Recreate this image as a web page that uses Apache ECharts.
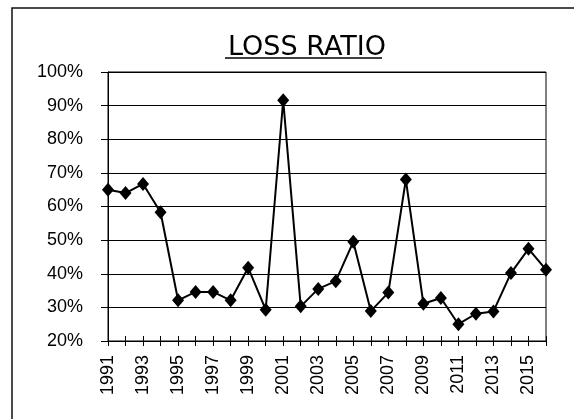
<!DOCTYPE html>
<html>
<head>
<meta charset="utf-8">
<script src="https://cdn.jsdelivr.net/npm/echarts@6/dist/echarts.min.js"></script>
<style>
  html, body { margin: 0; padding: 0; background: #fff; }
  #main { width: 574px; height: 419px; }
</style>
</head>
<body>
<div id="main"></div>
<script>
let years = ['1991', '1992', '1993', '1994', '1995', '1996', '1997', '1998', '1999', '2000',
    '2001', '2002', '2003', '2004', '2005', '2006', '2007', '2008', '2009', '2010',
    '2011', '2012', '2013', '2014', '2015', '2016']
let lossRatio = [65.0, 64.0, 66.7, 58.3, 32.1, 34.6, 34.6, 32.1, 41.8, 29.3,
    91.6, 30.3, 35.5, 37.8, 49.5, 28.9, 34.4, 68.0, 31.1, 32.8,
    25.0, 28.1, 28.8, 40.2, 47.4, 41.2]

let myChart = echarts.init(document.getElementById('main'))

let labelFont = {
    color: '#000',
    fontFamily: 'Liberation Sans, Arial, sans-serif',
    fontSize: 18
}

let option = {
    animation: false,
    backgroundColor: '#fff',
    title: {
        text: 'LOSS RATIO',
        left: 302,
        top: 29,
        textAlign: 'center',
        textStyle: {
            color: '#000',
            fontFamily: 'DejaVu Sans, Verdana, sans-serif',
            fontWeight: 'normal',
            fontSize: 27
        }
    },
    graphic: [
        // outer chart frame (runs off the right and bottom edges)
        {
            type: 'polyline',
            shape: { points: [[12, 500], [12, 8], [700, 8]] },
            style: { fill: 'none', stroke: '#111', lineWidth: 1.5 }
        },
        // title underline
        {
            type: 'line',
            shape: { x1: 225, y1: 58, x2: 382, y2: 58 },
            style: { stroke: '#000', lineWidth: 1.5 }
        }
    ],
    grid: {
        left: 108,
        right: 28,
        top: 72,
        bottom: 78,
        show: true,
        borderColor: '#000',
        borderWidth: 1
    },
    xAxis: [
        {
            type: 'category',
            data: years,
            position: 'bottom',
            boundaryGap: false,
            axisLine: { lineStyle: { color: '#000', width: 1 } },
            axisTick: { show: true, interval: 0, length: 5, lineStyle: { color: '#000' } },
            axisLabel: Object.assign({ interval: 1, rotate: 90, margin: 14 }, labelFont),
            splitLine: { show: false }
        },
        {
            // inner half of the crossing tick marks
            type: 'category',
            data: years,
            position: 'bottom',
            boundaryGap: false,
            axisLine: { show: false },
            axisTick: { show: true, inside: true, interval: 0, length: 5, lineStyle: { color: '#000' } },
            axisLabel: { show: false },
            splitLine: { show: false }
        }
    ],
    yAxis: {
        type: 'value',
        min: 20,
        max: 100,
        interval: 10,
        axisLine: { show: true, lineStyle: { color: '#000', width: 1 } },
        axisTick: { show: true, length: 7, lineStyle: { color: '#000' } },
        axisLabel: Object.assign({ formatter: '{value}%', margin: 25 }, labelFont),
        splitLine: { show: true, lineStyle: { color: '#000', width: 1 } }
    },
    series: [
        {
            type: 'line',
            data: lossRatio,
            symbol: 'diamond',
            symbolSize: [12, 14],
            showAllSymbol: true,
            lineStyle: { color: '#000', width: 2 },
            itemStyle: { color: '#000' }
        }
    ]
}

myChart.setOption(option)
</script>
</body>
</html>
